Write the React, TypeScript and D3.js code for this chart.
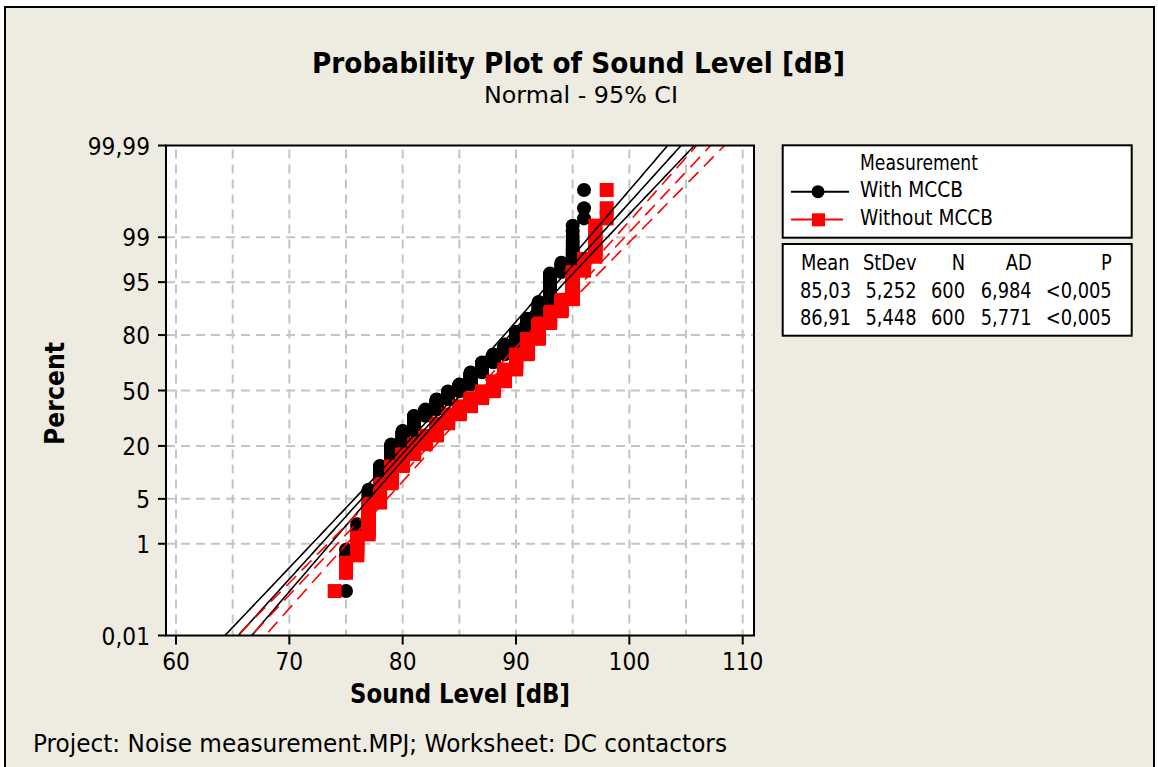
import React from 'react';
import * as d3 from 'd3';

// sound levels (dB) and how many of the 600 readings fall on each
const levels = [74, 75, 76, 77, 78, 79, 80, 81, 82, 83, 84, 85, 86, 87, 88, 89, 90, 91, 92, 93, 94, 95, 96, 97, 98];
const withCounts = [0, 5, 8, 27, 36, 48, 38, 48, 22, 36, 29, 25, 43, 34, 26, 30, 34, 29, 29, 31, 7, 12, 3, 0, 0];
const withoutCounts = [1, 2, 5, 18, 21, 28, 25, 24, 24, 37, 30, 28, 29, 25, 36, 42, 50, 45, 38, 23, 19, 29, 8, 10, 3];

// fitted parameters shown in the table
const fitMean = [85.03, 86.91];
const fitSd = [5.252, 5.448];
const fitN = [600, 600];

const seriesNames = ['With MCCB', 'Without MCCB'];
const statHeaders = ['Mean', 'StDev', 'N', 'AD', 'P'];
const statWith = ['85,03', '5,252', '600', '6,984', '<0,005'];
const statWithout = ['86,91', '5,448', '600', '5,771', '<0,005'];

const xTicks = [60, 70, 80, 90, 100, 110];
const xGrid = [60, 65, 70, 75, 80, 85, 90, 95, 100, 105, 110];
const yTicks = [0.01, 1, 5, 20, 50, 80, 95, 99, 99.99];
const yTickLabels = ['0,01', '1', '5', '20', '50', '80', '95', '99', '99,99'];
const yGrid = [1, 5, 20, 50, 80, 95, 99];

// inverse normal cdf (Acklam)
function probit(p: number): number {
  const a = [-3.969683028665376e1, 2.209460984245205e2, -2.759285104469687e2, 1.38357751867269e2, -3.066479806614716e1, 2.506628277459239];
  const b = [-5.447609879822406e1, 1.615858368580409e2, -1.556989798598866e2, 6.680131188771972e1, -1.328068155288572e1];
  const c = [-7.784894002430293e-3, -3.223964580411365e-1, -2.400758277161838, -2.549732539343734, 4.374664141464968, 2.938163982698783];
  const d = [7.784695709041462e-3, 3.224671290700398e-1, 2.445134137142996, 3.754408661907416];
  const pl = 0.02425;
  if (p < pl) {
    const q = Math.sqrt(-2 * Math.log(p));
    return (((((c[0] * q + c[1]) * q + c[2]) * q + c[3]) * q + c[4]) * q + c[5]) / ((((d[0] * q + d[1]) * q + d[2]) * q + d[3]) * q + 1);
  }
  if (p <= 1 - pl) {
    const q = p - 0.5, r = q * q;
    return ((((((a[0] * r + a[1]) * r + a[2]) * r + a[3]) * r + a[4]) * r + a[5]) * q) / (((((b[0] * r + b[1]) * r + b[2]) * r + b[3]) * r + b[4]) * r + 1);
  }
  const q = Math.sqrt(-2 * Math.log(1 - p));
  return -(((((c[0] * q + c[1]) * q + c[2]) * q + c[3]) * q + c[4]) * q + c[5]) / ((((d[0] * q + d[1]) * q + d[2]) * q + d[3]) * q + 1);
}

const FONT = 'DejaVu Sans';
const SX = 0.87; // squeeze DejaVu towards Tahoma widths

const W = 1158, H = 767;
const plot = { left: 166, right: 754, top: 145.5, bottom: 635.5 };

const zMin = probit(0.0001);
const zMax = probit(0.9999);

const x = d3.scaleLinear().domain([60, 110]).range([176, 742.7]);
const y = d3.scaleLinear().domain([zMin, zMax]).range([plot.bottom, plot.top]);

// expand counts into ranked points, median ranks (i-0.3)/(n+0.4)
function rankPoints(counts: number[]) {
  const vals: number[] = [];
  levels.forEach((v, k) => { for (let j = 0; j < counts[k]; j++) vals.push(v); });
  const n = vals.length;
  return vals.map((v, i) => ({ v, z: probit((i + 1 - 0.3) / (n + 0.4)) }));
}

function fitPaths(k: number) {
  const zs = d3.range(zMin - 0.2, zMax + 0.2, 0.05);
  const mu = fitMean[k], s = fitSd[k], n = fitN[k];
  const line = d3.line<number[]>().x(d => x(d[0])).y(d => y(d[1]));
  const half = (z: number) => 1.96 * s * Math.sqrt(1 / n + (z * z) / (2 * n));
  return [
    line(zs.map(z => [mu + z * s - half(z), z])),
    line(zs.map(z => [mu + z * s, z])),
    line(zs.map(z => [mu + z * s + half(z), z])),
  ];
}

const T = ({ x, y, size, anchor = 'start', bold = false, sx = SX, rotate = 0, len, children }: any) => (
  <text
    transform={`translate(${x},${y})${rotate ? ` rotate(${rotate})` : ''}${len ? '' : ` scale(${sx},1)`}`}
    fontFamily={FONT}
    fontSize={size}
    fontWeight={bold ? 'bold' : 'normal'}
    textAnchor={anchor}
    fill="#000"
    textLength={len}
    lengthAdjust={len ? 'spacingAndGlyphs' : undefined}
  >
    {children}
  </text>
);

export default function App() {
  const blackPts = rankPoints(withCounts);
  const redPts = rankPoints(withoutCounts);
  const blackFit = fitPaths(0);
  const redFit = fitPaths(1);
  const grid = '#c4c4c4';
  const statRight = [851, 916.5, 965, 1031.7, 1111.7];

  return (
    <div style={{ position: 'absolute', left: 0, top: 0 }}>
      <svg width={W} height={H} style={{ display: 'block', background: '#fff' }}>
        <defs>
          <clipPath id="plotClip">
            <rect x={plot.left} y={plot.top} width={plot.right - plot.left} height={plot.bottom - plot.top} />
          </clipPath>
        </defs>
        <rect x={5} y={7} width={1149} height={775} fill="#eeebe1" stroke="#000" strokeWidth={2} />

        <T x={312} y={73} size={29} bold len={533}>Probability Plot of Sound Level [dB]</T>
        <T x={484} y={103} size={23} len={194}>Normal - 95% CI</T>

        {/* plot area */}
        <rect x={plot.left} y={plot.top} width={plot.right - plot.left} height={plot.bottom - plot.top} fill="#fff" />
        <g stroke={grid} strokeWidth={2} strokeDasharray="9 6">
          {xGrid.map(v => (
            <line key={'gx' + v} x1={x(v)} x2={x(v)} y1={plot.top + 4} y2={plot.bottom} />
          ))}
          {yGrid.map(p => (
            <line key={'gy' + p} x1={plot.left} x2={plot.right} y1={y(probit(p / 100))} y2={y(probit(p / 100))} />
          ))}
        </g>

        <g clipPath="url(#plotClip)">
          {blackPts.map((d, i) => (
            <circle key={'b' + i} cx={x(d.v)} cy={y(d.z)} r={7} fill="#000" />
          ))}
          {redPts.map((d, i) => (
            <rect key={'r' + i} x={x(d.v) - 7} y={y(d.z) - 7} width={14} height={14} fill="#ff0000" />
          ))}
          {blackFit.map((p, i) => (
            <path key={'bf' + i} d={p || ''} fill="none" stroke="#000" strokeWidth={1.6} />
          ))}
          {redFit.map((p, i) => (
            <path key={'rf' + i} d={p || ''} fill="none" stroke="#ff0000" strokeWidth={1.6} strokeDasharray="14 8" />
          ))}
        </g>

        <rect x={plot.left} y={plot.top} width={plot.right - plot.left} height={plot.bottom - plot.top} fill="none" stroke="#000" strokeWidth={2} />

        {/* y axis */}
        {yTicks.map((p, i) => {
          const yy = y(probit(p / 100));
          return (
            <g key={'yt' + p}>
              <line x1={158} x2={plot.left} y1={yy} y2={yy} stroke="#000" strokeWidth={2} />
              <T x={150} y={yy + 9} size={25} anchor="end">{yTickLabels[i]}</T>
            </g>
          );
        })}
        {/* x axis */}
        {xTicks.map(v => (
          <g key={'xt' + v}>
            <line x1={x(v)} x2={x(v)} y1={plot.bottom} y2={plot.bottom + 9} stroke="#000" strokeWidth={2} />
            <T x={x(v)} y={670} size={25} anchor="middle">{v}</T>
          </g>
        ))}

        <T x={350} y={703} size={27} bold len={220}>Sound Level [dB]</T>
        <T x={64} y={445} size={26} bold rotate={-90} len={103}>Percent</T>
        <T x={33} y={752} size={24} len={694}>Project: Noise measurement.MPJ; Worksheet: DC contactors</T>

        {/* legend */}
        <rect x={782.7} y={145.3} width={349} height={92.4} fill="#fff" stroke="#000" strokeWidth={2} />
        <T x={860} y={170} size={20.5} len={118}>Measurement</T>
        <line x1={791} x2={849} y1={191.7} y2={191.7} stroke="#000" strokeWidth={2} />
        <circle cx={818} cy={191.7} r={6.5} fill="#000" />
        <T x={860} y={197} size={20.5} len={103}>{seriesNames[0]}</T>
        <line x1={791} x2={843} y1={219.5} y2={219.5} stroke="#ff0000" strokeWidth={2} />
        <rect x={812} y={213.3} width={13} height={13} fill="#ff0000" />
        <T x={860} y={225} size={20.5} len={133}>{seriesNames[1]}</T>

        <rect x={782.7} y={244} width={349} height={91.7} fill="#fff" stroke="#000" strokeWidth={2} />
        {statHeaders.map((h, i) => (
          <T key={'h' + i} x={statRight[i] - (i === 0 ? 1.5 : 0)} y={269.5} size={20.5} anchor="end">{h}</T>
        ))}
        {statWith.map((s, i) => (
          <T key={'w' + i} x={statRight[i]} y={297.5} size={20.5} anchor="end">{s}</T>
        ))}
        {statWithout.map((s, i) => (
          <T key={'o' + i} x={statRight[i]} y={325} size={20.5} anchor="end">{s}</T>
        ))}
      </svg>
    </div>
  );
}
